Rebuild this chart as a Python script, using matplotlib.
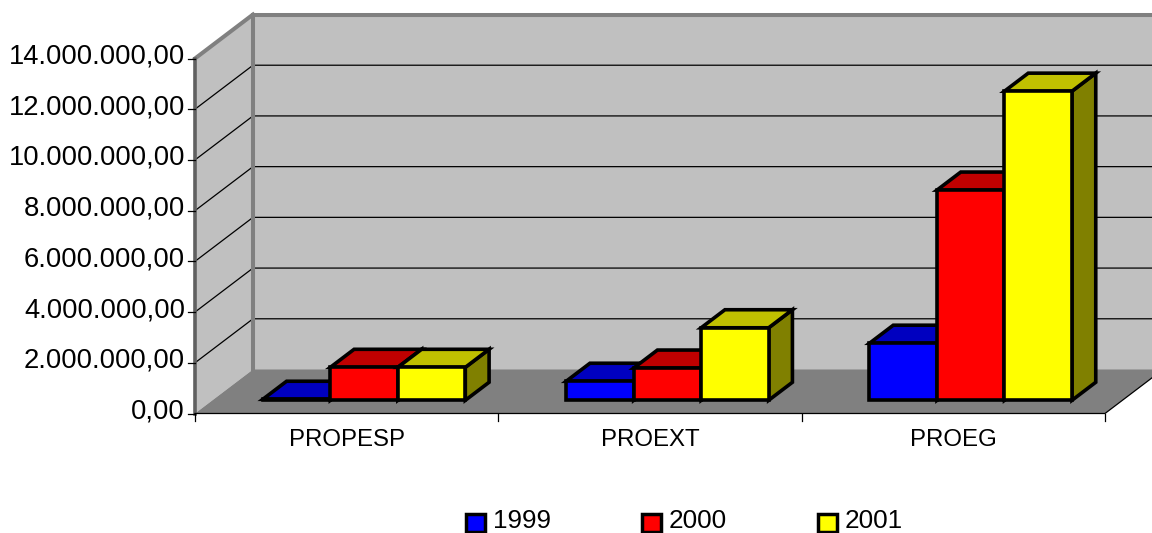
import matplotlib
matplotlib.use("Agg")
import matplotlib.pyplot as plt
from matplotlib.patches import Polygon, Rectangle

categories = ["PROPESP", "PROEXT", "PROEG"]
years = ["1999", "2000", "2001"]
values_1999 = [40000, 750000, 2250000]
values_2000 = [1300000, 1270000, 8290000]
values_2001 = [1300000, 2860000, 12190000]
tick_values = [0, 2000000, 4000000, 6000000, 8000000, 10000000, 12000000, 14000000]
tick_labels = ["0,00", "2.000.000,00", "4.000.000,00", "6.000.000,00",
               "8.000.000,00", "10.000.000,00", "12.000.000,00", "14.000.000,00"]
series = [values_1999, values_2000, values_2001]

# pseudo-3D projection geometry (pixels)
X0, Y0 = 195, 413.5
CAT_W = 303.33
Y_SCALE = 355 / 14000000
DX, DY = 58, 44
BAR_W = 67.5 / CAT_W
Z0, Z1 = 0.30, 0.71
FRONT = ["#0000ff", "#ff0000", "#ffff00"]
TOP = ["#0000c0", "#c00000", "#c0c000"]
SIDE = ["#000080", "#800000", "#808000"]
FONT = "Liberation Sans"


def proj(x, v, z):
    return (X0 + x * CAT_W + z * DX, Y0 - v * Y_SCALE - z * DY)


fig = plt.figure(figsize=(11.52, 5.33), dpi=100)
ax = fig.add_axes([0, 0, 1, 1])
ax.set_xlim(0, 1152)
ax.set_ylim(533, 0)
ax.axis("off")

n = len(categories)
vmax = tick_values[-1]
# walls and floor
ax.add_patch(Polygon([proj(0, 0, 1), proj(n, 0, 1), proj(n, vmax, 1), proj(0, vmax, 1)],
                     fc="#c0c0c0", ec="none", zorder=1))
ax.add_patch(Polygon([proj(0, 0, 0), proj(0, 0, 1), proj(0, vmax, 1), proj(0, vmax, 0)],
                     fc="#c0c0c0", ec="none", zorder=1))
ax.add_patch(Polygon([proj(0, 0, 0), proj(n, 0, 0), proj(n, 0, 1), proj(0, 0, 1)],
                     fc="#808080", ec="none", zorder=1))
# gridlines
for tv in tick_values[1:-1]:
    pts = [proj(0, tv, 0), proj(0, tv, 1), proj(n, tv, 1)]
    ax.plot(*zip(*pts), color="black", lw=0.9, zorder=2)
# wall edges
GR = "#808080"
ax.plot(*zip(proj(0, 0, 1), proj(0, vmax, 1), proj(n, vmax, 1)), color=GR, lw=2.9, zorder=2,
        solid_joinstyle="miter")
ax.plot(*zip(proj(0, vmax, 0), proj(0, vmax, 1)), color=GR, lw=2.9, zorder=2)
ax.plot(*zip(proj(0, 0, 0), proj(0, vmax, 0)), color="#606060", lw=2.6, zorder=3)
ax.plot(*zip(proj(0, 0, 0), proj(n, 0, 0), proj(n, 0, 1)), color="black", lw=0.9, zorder=3)

# value ticks and labels
for tv, lab in zip(tick_values, tick_labels):
    x, y = proj(0, tv, 0)
    ax.plot([x - 7, x], [y, y], color="black", lw=0.9, zorder=3)
    ax.text(x - 10, y - 2, lab, ha="right", va="center", family=FONT, fontsize=19.7, color="black")
# category ticks and labels
for i in range(n + 1):
    x, y = proj(i, 0, 0)
    ax.plot([x, x], [y, y + 7], color="black", lw=0.9, zorder=3)
for i, cat in enumerate(categories):
    x, y = proj(i + 0.5, 0, 0)
    ax.text(x, 440, cat, ha="center", va="center", family=FONT, fontsize=17.3, color="black")

# bars
LW = 2.6
GAP = (1 - 3 * BAR_W) / 2
for i in range(n):
    for s, vals in enumerate(series):
        v = vals[i]
        x0 = i + GAP + s * BAR_W
        x1 = x0 + BAR_W
        kw = dict(ec="black", lw=LW, joinstyle="miter", zorder=5 + s)
        ax.add_patch(Polygon([proj(x1, 0, Z0), proj(x1, 0, Z1), proj(x1, v, Z1), proj(x1, v, Z0)],
                             fc=SIDE[s], **kw))
        ax.add_patch(Polygon([proj(x0, v, Z0), proj(x1, v, Z0), proj(x1, v, Z1), proj(x0, v, Z1)],
                             fc=TOP[s], **kw))
        ax.add_patch(Polygon([proj(x0, 0, Z0), proj(x1, 0, Z0), proj(x1, v, Z0), proj(x0, v, Z0)],
                             fc=FRONT[s], **kw))

# legend
for s, (yr, sx) in enumerate(zip(years, [466, 642, 818])):
    ax.add_patch(Rectangle((sx, 513.5), 19, 18.5, fc=FRONT[s], ec="black", lw=2.5, zorder=5))
    ax.text(sx + 27, 521.5, yr, ha="left", va="center", family=FONT, fontsize=18.8, color="black")

fig.savefig("out.png", dpi=100)
